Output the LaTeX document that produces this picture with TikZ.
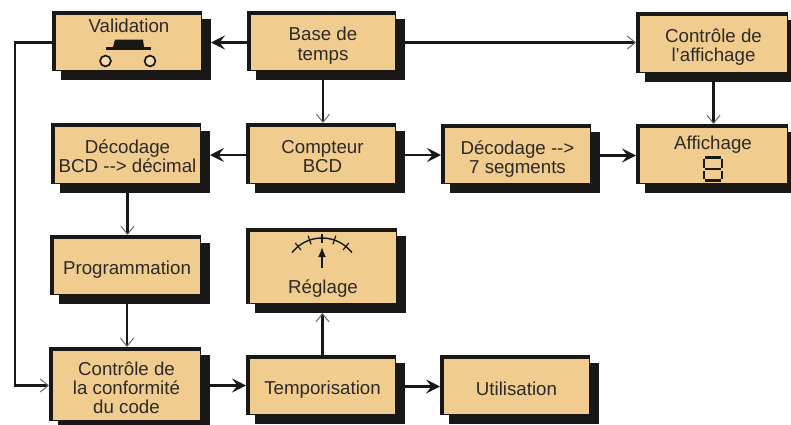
\documentclass[tikz,border=0pt]{standalone}
\usepackage{fontspec}
\setmainfont{Liberation Sans}
\usetikzlibrary{arrows.meta,calc}
\definecolor{boxfill}{HTML}{F0CD8E}
\definecolor{ink}{HTML}{1A1817}
\definecolor{txt}{HTML}{2E2926}
\definecolor{barb}{HTML}{6E6A66}
\tikzset{
  emptybox/.style={fill=boxfill,inner sep=0pt,outer sep=0pt,anchor=north west,text=txt,
    font=\fontsize{18.7}{19.2}\selectfont},
  boxnode/.style={emptybox,
    execute at begin node={\rule{0pt}{20.5pt}},
    execute at end node={\rule[-2pt]{0pt}{0pt}}},
  lbl/.style={inner sep=0pt,text=txt,font=\fontsize{18.7}{19.2}\selectfont},
  wire/.style={draw=ink,line width=2.3pt},
  heavy/.style={wire,-{Stealth[length=14pt,width=14pt,inset=5.5pt,color=ink]}},
  light/.style={wire,-{Straight Barb[length=8pt,width=13pt,line width=1pt,color=barb]}},
}
\newcommand\blk[7][boxnode]{%
  \fill[ink] (#3+9,#4+8) rectangle (#5+9.5,#6+10);
  \fill[ink] (#3,#4) rectangle (#5+1,#6+1);
  \node[#1,minimum width={#5-#3-4},minimum height={#6-#4-4}] (#2) at (#3+4,#4+4) {#7};
}
% several centred lines, moved down by #1 and taking no height of their own
\newcommand\lines[3][1]{\raisebox{-#2}[0pt][0pt]{\renewcommand\arraystretch{#1}\begin{tabular}[c]{@{}c@{}}#3\end{tabular}}}
\begin{document}
\begin{tikzpicture}[x=1pt,y=-1pt]
\useasboundingbox (0,0) rectangle (791,424);
\fill[white] (0,0) rectangle (791,424);
\blk[emptybox]{valid}{52}{11}{201}{70}{}
\blk[emptybox]{base}{247}{11}{395}{70}{\lines{8.5pt}{Base de\\temps}}
\blk[emptybox]{cafi}{636}{12}{787}{72}{\lines{8.5pt}{Contrôle de\\l'affichage}}
\blk[emptybox]{dbcd}{51}{123}{200}{183}{\lines{8.5pt}{Décodage\\BCD -{}-> décimal}}
\blk[emptybox]{cpt}{246}{123}{395}{183}{\lines{8.5pt}{Compteur\\BCD}}
\blk[emptybox]{d7}{441}{124}{590}{183}{\lines{8.5pt}{Décodage -{}->\\7 segments}}
\blk[emptybox]{afi}{636}{124}{787}{183}{}
\blk{prog}{50}{235}{200}{294}{Programmation}
\blk[emptybox]{regl}{246}{228}{396}{303}{}
\blk[emptybox]{conf}{49}{347}{200}{420}{\lines[0.97]{9.5pt}{Contrôle de\\la conformité\\du code}}
\blk{temp}{246}{355}{395}{414}{Temporisation}
\blk{util}{440}{355}{589}{414}{Utilisation}
% labels placed inside icon boxes
\node[lbl] (tvalid) at (129,26) {Validation};
\node[lbl] (tafi) at (713,145) {Affichage};
\node[lbl] (tregl) at (323,289) {Réglage};
% push button
\fill[ink] (113,47) -- (115,39.5) -- (143,39.5) -- (144,47) -- cycle;
\fill[ink] (106,47) rectangle (151,50);
\draw[ink,line width=1.7pt,fill=boxfill!70!white] (105.5,61) circle (5.4);
\draw[ink,line width=1.7pt,fill=boxfill!70!white] (150,61) circle (5.4);
% digit
\foreach \xa/\ya/\xb/\yb in {705/157.5/721/157.5, 705/169/721/169, 705/180.5/721/180.5,
    703.8/159/703.8/167.5, 722.2/159/722.2/167.5, 703.8/170.5/703.8/179, 722.2/170.5/722.2/179}
  \draw[ink,line width=2.4pt] (\xa,\ya) -- (\xb,\yb);
% gauge
\draw[ink,line width=1.4pt] plot[domain=-142:-38,samples=25,smooth] ({322+38*cos(\x)},{276+38*sin(\x)});
\foreach \a in {-129,-109,-90,-71,-51}
  \draw[ink,line width=1.2pt] ({322+33.5*cos(\a)},{276+33.5*sin(\a)}) -- ({322+42.5*cos(\a)},{276+42.5*sin(\a)});
\draw[ink,line width=1.7pt,-{Latex[length=10pt,width=8pt]}] (322,268) -- (322,247);
% connectors
\coordinate (bus) at (15,42);
\draw[heavy,shorten >=10pt] (base.west) -- (base.west -| valid.east);
\draw[light,shorten >=4pt] (base.east) -- (base.east -| cafi.west);
\draw[light,shorten >=4pt] (base.south) -- (base.south |- cpt.north);
\draw[light,shorten >=4pt] (cafi.south) -- (cafi.south |- afi.north);
\draw[heavy,shorten >=10pt] (cpt.west) -- (cpt.west -| dbcd.east);
\draw[heavy,shorten >=4pt] (cpt.east) -- (cpt.east -| d7.west);
\draw[heavy,shorten >=4pt] (d7.east) -- (d7.east -| afi.west);
\draw[light,shorten >=4pt] (dbcd.south) -- (dbcd.south |- prog.north);
\draw[light,shorten >=4pt] (prog.south) -- (prog.south |- conf.north);
\draw[heavy,shorten >=4pt] (conf.east) -- (conf.east -| temp.west);
\draw[heavy,shorten >=4pt] (temp.east) -- (temp.east -| util.west);
\draw[light,shorten >=10pt] (temp.north) -- (temp.north |- regl.south);
\draw[light,shorten >=4pt] (valid.west) -- (valid.west -| bus) -- (conf.west -| bus) -- (conf.west);
\end{tikzpicture}
\end{document}
